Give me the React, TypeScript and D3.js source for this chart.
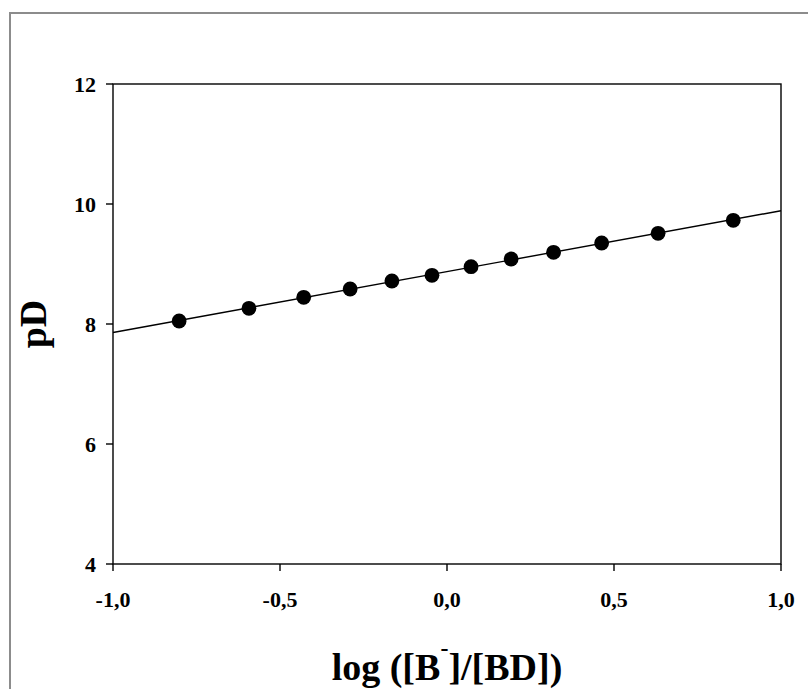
import React from "react";
import * as d3 from "d3";

// Measured titration points: log([B-]/[BD]) vs pD
const logRatio = [-0.802, -0.593, -0.429, -0.29, -0.165, -0.045, 0.072, 0.192, 0.319, 0.463, 0.632, 0.857];
const pD = [8.05, 8.262, 8.445, 8.583, 8.717, 8.812, 8.955, 9.083, 9.195, 9.35, 9.512, 9.728];
const xTicks = [-1, -0.5, 0, 0.5, 1];
const yTicks = [4, 6, 8, 10, 12];

const W = 808;
const H = 689;
const FONT = "'Liberation Serif', 'Times New Roman', Times, serif";

export default function App() {
  const x = d3.scaleLinear().domain([-1, 1]).range([113, 781]);
  const y = d3.scaleLinear().domain([4, 12]).range([564, 84]);

  // least-squares line through the points
  const mx = d3.mean(logRatio)!;
  const my = d3.mean(pD)!;
  const sxy = d3.sum(logRatio, (v, i) => (v - mx) * (pD[i] - my));
  const sxx = d3.sum(logRatio, (v) => (v - mx) ** 2);
  const slope = sxy / sxx;
  const icpt = my - slope * mx;
  const fitLine = d3
    .line<number>()
    .x((d) => x(d))
    .y((d) => y(icpt + slope * d));

  const fmt = (v: number) => d3.format(".1f")(v).replace(".", ",").replace("−", "-");

  return (
    <svg
      width={W}
      height={H}
      style={{ position: "absolute", left: 0, top: 0, background: "#fff" }}
      fontFamily={FONT}
    >
      <rect x={10} y={13} width={W + 20} height={H + 20} fill="#fff" stroke="#8c8c8c" strokeWidth={2} />

      {/* fitted line */}
      <path d={fitLine([-1, 1]) ?? ""} fill="none" stroke="#000" strokeWidth={1.4} />

      {/* points */}
      {logRatio.map((v, i) => (
        <circle key={i} cx={x(v)} cy={y(pD[i])} r={7.4} fill="#000" />
      ))}

      {/* frame */}
      <rect x={x(-1)} y={y(12)} width={x(1) - x(-1)} height={y(4) - y(12)} fill="none" stroke="#000" strokeWidth={1.4} />

      {/* y ticks */}
      {yTicks.map((t) => (
        <g key={t}>
          <line x1={x(-1) - 7} x2={x(-1)} y1={y(t)} y2={y(t)} stroke="#000" strokeWidth={1.4} />
          <text x={96} y={y(t)} dy="0.36em" textAnchor="end" fontSize={22} fontWeight="bold">
            {t}
          </text>
        </g>
      ))}

      {/* x ticks */}
      {xTicks.map((t) => (
        <g key={t}>
          <line x1={x(t)} x2={x(t)} y1={y(4)} y2={y(4) + 7} stroke="#000" strokeWidth={1.4} />
          <text x={x(t)} y={607} textAnchor="middle" fontSize={22} fontWeight="bold">
            {fmt(t)}
          </text>
        </g>
      ))}

      {/* axis titles */}
      <text x={(x(-1) + x(1)) / 2} y={680} textAnchor="middle" fontSize={38} fontWeight="bold">
        log ([B<tspan dy={-24} fontSize={24}>-</tspan>
        <tspan dy={24}>]/[BD])</tspan>
      </text>
      <text
        transform={`translate(46, ${(y(4) + y(12)) / 2}) rotate(-90)`}
        textAnchor="middle"
        fontSize={38}
        fontWeight="bold"
      >
        pD
      </text>
    </svg>
  );
}
